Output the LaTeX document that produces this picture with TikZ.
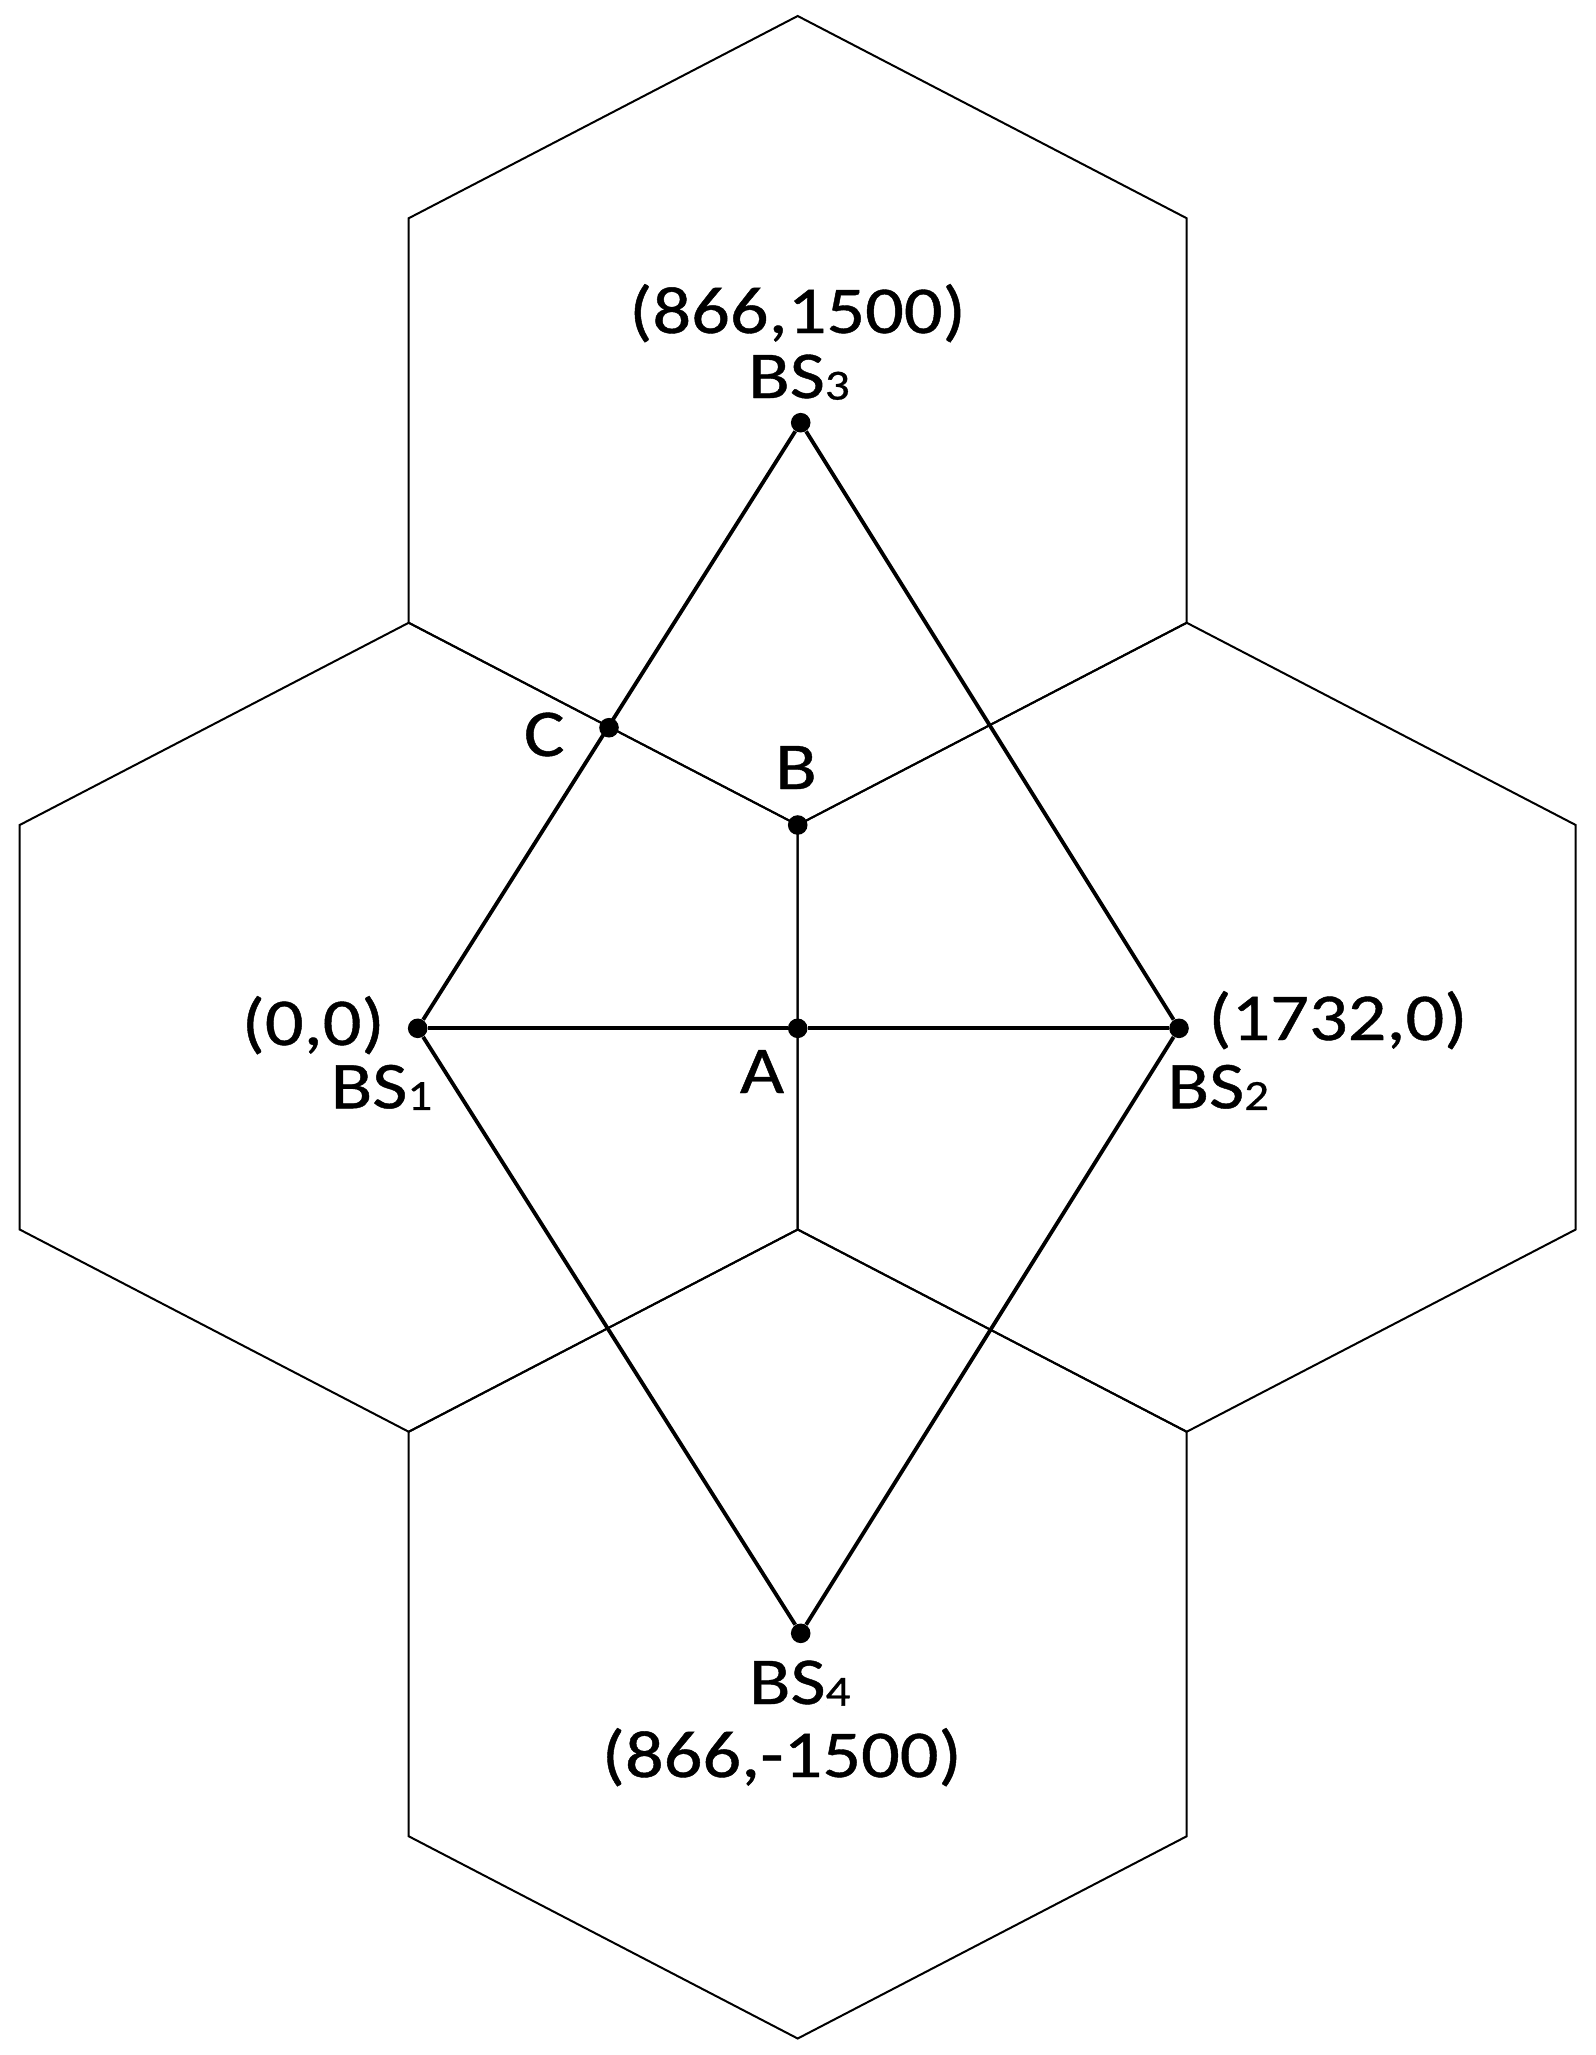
\documentclass[tikz,border=0pt]{standalone}
\usepackage{fontspec}
\setmainfont{Carlito}[FakeBold=0.6]
\usepackage{graphicx}
\newcommand\lbl[1]{\scalebox{1.14}[1]{#1}}
\newcommand\subd[1]{\raisebox{-0.8pt}{\fontsize{21.5}{22}\selectfont #1}}
\begin{document}
\begin{tikzpicture}[x=0.5pt,y=-0.5pt,
  hexline/.style={line width=1pt,line join=miter},
  rayline/.style={line width=1.9pt,line join=round},
  dot/.style={circle,fill=black,inner sep=0pt,minimum size=9.8pt},
  lab/.style={inner sep=0pt,font=\fontsize{33.5}{36}\selectfont},
  hexcell/.pic={\draw[hexline] (0,-404.5) -- (389,-202.25) -- (389,202.25) -- (0,404.5) -- (-389,202.25) -- (-389,-202.25) -- cycle;}]
\useasboundingbox (0,0) rectangle (1595,2055);
% hexagonal cells
\pic at (797.7,420.5) {hexcell};
\pic at (408.7,1027.25) {hexcell};
\pic at (1186.7,1027.25) {hexcell};
\pic at (797.7,1634) {hexcell};
% base stations and points
\node[dot] (BS1) at (417.7,1028.3) {};
\node[dot] (BS2) at (1179,1028.3) {};
\node[dot] (BS3) at (800.7,422.7) {};
\node[dot] (BS4) at (800.7,1633.3) {};
\node[dot] (A) at (797.7,1028.3) {};
\node[dot] (B) at (797.7,825) {};
\node[dot] (C) at (609,727.7) {};
% connectors
\draw[rayline] (BS1) -- (BS3);
\draw[rayline] (BS3) -- (BS2);
\draw[rayline] (BS2) -- (BS4);
\draw[rayline] (BS4) -- (BS1);
\draw[rayline] (BS1) -- (A);
\draw[rayline] (A) -- (BS2);
% labels
\node[lab,anchor=base] (t3) at (797.5,333) {\lbl{(866,1500)}};
\node[lab,anchor=base] (n3) at (799,398) {\lbl{BS\subd{3}}};
\node[lab,anchor=base east] (t1) at (385,1045) {\lbl{(0,0)}};
\node[lab,anchor=base] (n1) at (381.5,1108.3) {\lbl{BS\subd{1}}};
\node[lab,anchor=base west] (t2) at (1208,1040) {\lbl{(1732,0)}};
\node[lab,anchor=base] (n2) at (1218.3,1108.3) {\lbl{BS\subd{2}}};
\node[lab,anchor=base] (n4) at (799.7,1704) {\lbl{BS\subd{4}}};
\node[lab,anchor=base east] (t4) at (962,1777) {\lbl{(866,-1500)}};
\node[lab,anchor=base] (la) at (762,1093) {\lbl{A}};
\node[lab,anchor=base] (lb) at (796,789) {\lbl{B}};
\node[lab,anchor=base east] (lc) at (565,756) {\lbl{C}};
\end{tikzpicture}
\end{document}
